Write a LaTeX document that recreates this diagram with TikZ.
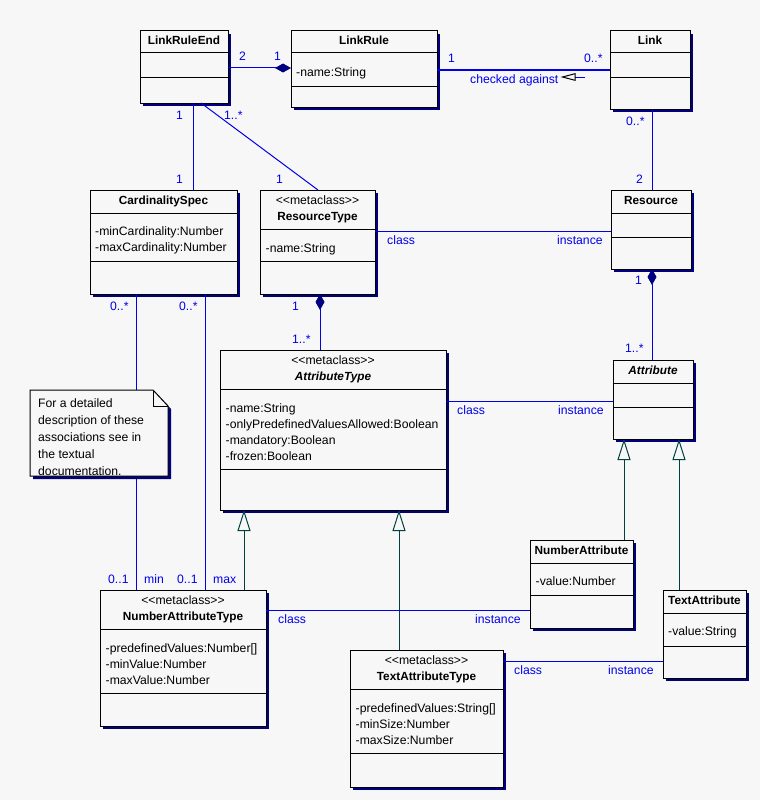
\documentclass[tikz,border=0pt]{standalone}
\usepackage{fontspec}
\setmainfont{Liberation Sans}
\usetikzlibrary{arrows.meta,shadows,calc}
\definecolor{bg}{RGB}{247,247,247}
\definecolor{ublue}{RGB}{0,0,235}
\definecolor{navy}{RGB}{0,0,128}
\definecolor{gencol}{RGB}{0,64,64}
\newcommand\mkclass[5]{\node[cls, minimum width={#4-#2}, minimum height={#5-#3}] (#1) at (#2,#3) {};}
\newcommand\mksep[2]{\draw[sepl] (#1.west |- 0,#2) -- (#1.east |- 0,#2);}
\newcommand\metacls{<\kern0pt<metaclass>\kern0pt>}
\begin{document}
\begin{tikzpicture}[x=1pt,y=-1pt,
  cls/.style={draw=black, line width=1pt, fill=bg, inner sep=0pt, outer sep=0pt, anchor=north west,
    drop shadow={shadow xshift=3pt, shadow yshift=-3pt, fill=navy, opacity=1}},
  sepl/.style={draw=black, line width=1pt},
  cname/.style={font=\fontsize{11.8}{14}\selectfont\bfseries, anchor=base, inner sep=0pt},
  aname/.style={font=\fontsize{11.8}{14}\selectfont\bfseries\itshape, anchor=base, inner sep=0pt},
  ster/.style={font=\fontsize{12.2}{14}\selectfont, anchor=base, inner sep=0pt},
  attr/.style={font=\fontsize{12.2}{14}\selectfont, anchor=base west, inner sep=0pt},
  lbl/.style={font=\fontsize{12.2}{14}\selectfont, text=ublue, anchor=base west, inner sep=0pt},
  assoc/.style={draw=ublue, line width=1pt},
  gen/.style={draw=gencol, line width=1pt, -{Triangle[open, length=21pt, width=13pt, fill=bg]}},
  comp/.style={draw=ublue, line width=1pt, {Diamond[length=16pt, width=9pt, fill=navy, color=navy]}-}
]
\fill[bg] (0,0) rectangle (760,800);
\useasboundingbox (0,0) rectangle (760,800);

% ---------- class boxes ----------
\mkclass{lre}{140}{31}{228}{103}
\mksep{lre}{53}\mksep{lre}{77}
\node[cname] (lreN) at (lre.north |- 0,44.5) {LinkRuleEnd};

\mkclass{lr}{291}{31}{437}{107}
\mksep{lr}{53}\mksep{lr}{86}
\node[cname] (lrN) at (lr.north |- 0,44.5) {LinkRule};
\node[attr] (lrA) at (296,76) {-name:String};

\mkclass{link}{610}{31}{690}{109}
\mksep{link}{53}\mksep{link}{77}
\node[cname] (linkN) at (link.north |- 0,44.5) {Link};

\mkclass{cs}{90}{190}{237}{294}
\mksep{cs}{213}\mksep{cs}{261}
\node[cname] (csN) at (cs.north |- 0,204) {CardinalitySpec};
\node[attr] (csA1) at (95,235.5) {-minCardinality:Number};
\node[attr] (csA2) at (95,251.5) {-maxCardinality:Number};

\mkclass{rt}{260}{190}{375}{294}
\mksep{rt}{229}\mksep{rt}{261}
\node[ster] (rtS) at (rt.north |- 0,204) {\metacls};
\node[cname] (rtN) at (rt.north |- 0,220) {ResourceType};
\node[attr] (rtA) at (265.5,252) {-name:String};

\mkclass{res}{611}{190}{691}{269}
\mksep{res}{213}\mksep{res}{237}
\node[cname] (resN) at (res.north |- 0,204) {Resource};

\mkclass{at}{220}{350}{446}{510}
\mksep{at}{389}\mksep{at}{469}
\node[ster] (atS) at (at.north |- 0,364) {\metacls};
\node[aname] (atN) at (at.north |- 0,380) {AttributeType};
\node[attr] (atA1) at (225.5,412) {-name:String};
\node[attr] (atA2) at (225.5,428) {-onlyPredefinedValuesAllowed:Boolean};
\node[attr] (atA3) at (225.5,444) {-mandatory:Boolean};
\node[attr] (atA4) at (225.5,460) {-frozen:Boolean};

\mkclass{attr}{613}{360}{693}{439}
\mksep{attr}{383}\mksep{attr}{407}
\node[aname] (attrN) at (attr.north |- 0,374) {Attribute};

\mkclass{na}{530}{540}{633}{628}
\mksep{na}{563}\mksep{na}{595}
\node[cname] (naN) at (na.north |- 0,554) {NumberAttribute};
\node[attr] (naA) at (535.5,585) {-value:Number};

\mkclass{ta}{663}{590}{746}{678}
\mksep{ta}{613}\mksep{ta}{646}
\node[cname] (taN) at (ta.north |- 0,604) {TextAttribute};
\node[attr] (taA) at (668,635) {-value:String};

% ---------- connectors ----------
\draw[comp] (lr.west |- 0,68) -- (lre.east |- 0,68);
\draw[assoc] (lr.east |- 0,70) -- (link.west |- 0,70);
\draw[assoc] (link.south -| 652,0) -- (res.north -| 652,0);
\draw[comp] (res.south -| 652,0) -- (attr.north -| 652,0);
\draw[assoc] (lre.south -| 193,0) -- (cs.north -| 193,0);
\draw[assoc] (lre.south -| 201,0) -- (rt.north -| 318,0);
\draw[assoc] (rt.east |- 0,231) -- (res.west |- 0,231);
\draw[comp] (rt.south -| 320,0) -- (at.north -| 320,0);
\draw[assoc] (at.east |- 0,401) -- (attr.west |- 0,401);

\mkclass{nat}{100}{590}{266}{726}
\mksep{nat}{629}\mksep{nat}{693}
\node[ster] (natS) at (nat.north |- 0,604) {\metacls};
\node[cname] (natN) at (nat.north |- 0,620) {NumberAttributeType};
\node[attr] (natA1) at (105.5,652) {-predefinedValues:Number[]};
\node[attr] (natA2) at (105.5,668) {-minValue:Number};
\node[attr] (natA3) at (105.5,684) {-maxValue:Number};

\mkclass{tat}{350}{650}{503}{787}
\mksep{tat}{689}\mksep{tat}{753}
\node[ster] (tatS) at (tat.north |- 0,664) {\metacls};
\node[cname] (tatN) at (tat.north |- 0,680) {TextAttributeType};
\node[attr] (tatA1) at (355.5,712) {-predefinedValues:String[]};
\node[attr] (tatA2) at (355.5,728) {-minSize:Number};
\node[attr] (tatA3) at (355.5,744) {-maxSize:Number};

\draw[assoc] (cs.south -| 136,0) -- (nat.north -| 136,0);
\draw[assoc] (cs.south -| 205,0) -- (nat.north -| 205,0);
\draw[gen] (nat.north -| 244,0) -- (at.south -| 244,0);
\draw[gen] (tat.north -| 399,0) -- (at.south -| 399,0);
\draw[gen] (na.north -| 624,0) -- (attr.south -| 624,0);
\draw[gen] (ta.north -| 679,0) -- (attr.south -| 679,0);
\draw[assoc] (nat.east |- 0,610) -- (na.west |- 0,610);
\draw[assoc] (tat.east |- 0,661) -- (ta.west |- 0,661);

% navigation arrow of "checked against"
\coordinate (navA) at (585,77);
\coordinate (navB) at (575,77);
\draw[assoc] (navA) -- (navB);
\draw[black, line width=1pt, line join=miter] (navB) -- ++(0,-3.3) -- (562.5,77) -- (575,80.3) -- cycle;

% ---------- note ----------
\node[anchor=north west, minimum width=138, minimum height=86, inner sep=0pt, outer sep=0pt] (note) at (30,390) {};
\filldraw[fill=bg, draw=black, line width=1pt, drop shadow={shadow xshift=3pt, shadow yshift=-3pt, fill=navy, opacity=1}]
  (note.north west) -- ($(note.north east)+(-15,0)$) -- ($(note.north east)+(0,16)$) -- (note.south east) -- (note.south west) -- cycle;
\draw[black, line width=1pt] ($(note.north east)+(-15,0)$) -- ++(0,16) -- ++(15,0);
\node[attr] (n1) at (38,407.5) {For a detailed};
\node[attr] (n2) at (38,424.5) {description of these};
\node[attr] (n3) at (38,441.5) {associations see in};
\node[attr] (n4) at (38,458.5) {the textual};
\node[attr] (n5) at (38,475.5) {documentation.};

% ---------- labels ----------
\node[lbl] (l1) at (239,61) {2};
\node[lbl] (l2) at (274,61) {1};
\node[lbl] (l3) at (448,63) {1};
\node[lbl] (l4) at (584,63) {0..*};
\node[lbl] (l5) at (470,83) {checked against};
\node[lbl] (l6) at (626,125) {0..*};
\node[lbl] (l7) at (636,183) {2};
\node[lbl] (l8) at (176,119) {1};
\node[lbl] (l9) at (224,119) {1..*};
\node[lbl] (l10) at (176,183) {1};
\node[lbl] (l11) at (276,183) {1};
\node[lbl] (l12) at (387,244) {class};
\node[lbl] (l13) at (557,244) {instance};
\node[lbl] (l14) at (635,284) {1};
\node[lbl] (l15) at (110,310) {0..*};
\node[lbl] (l16) at (179,310) {0..*};
\node[lbl] (l17) at (292,310) {1};
\node[lbl] (l18) at (292,343) {1..*};
\node[lbl] (l19) at (625,352) {1..*};
\node[lbl] (l20) at (457,414) {class};
\node[lbl] (l21) at (558,414) {instance};
\node[lbl] (l22) at (108,583) {0..1};
\node[lbl] (l23) at (144,583) {min};
\node[lbl] (l24) at (177,583) {0..1};
\node[lbl] (l25) at (213,583) {max};
\node[lbl] (l26) at (278,623) {class};
\node[lbl] (l27) at (475,623) {instance};
\node[lbl] (l28) at (514,674) {class};
\node[lbl] (l29) at (608,674) {instance};
\end{tikzpicture}
\end{document}
